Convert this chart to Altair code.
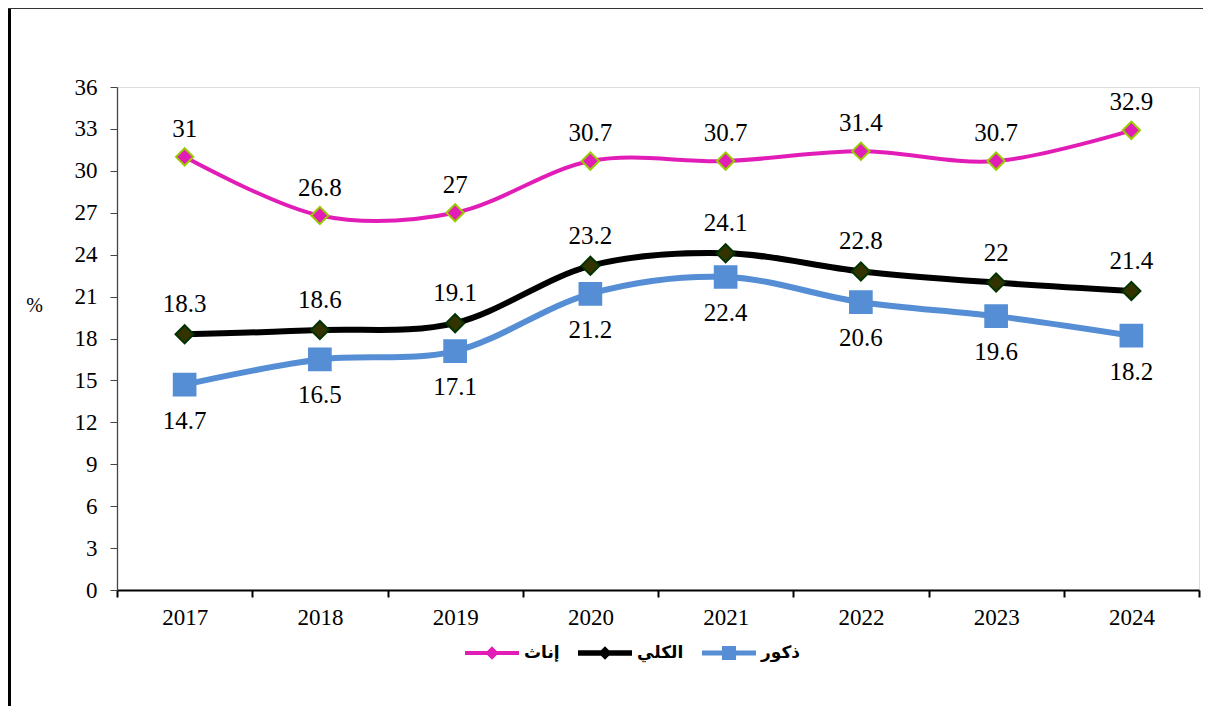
import altair as alt
import pandas as pd

years = ["2017", "2018", "2019", "2020", "2021", "2022", "2023", "2024"]
female = [31, 26.8, 27, 30.7, 30.7, 31.4, 30.7, 32.9]
total = [18.3, 18.6, 19.1, 23.2, 24.1, 22.8, 22, 21.4]
male = [14.7, 16.5, 17.1, 21.2, 22.4, 20.6, 19.6, 18.2]

series_names = ["إناث", "الكلي", "ذكور"]
line_colors = ["#E21DB7", "#000000", "#558ED5"]
marker_fills = ["#E21DB7", "#333300", "#558ED5"]
marker_strokes = ["#99CC00", "#003300", "#558ED5"]
marker_shapes = ["diamond", "diamond", "square"]
marker_sizes = [300, 330, 470]
line_widths = [4, 6, 6]
label_offsets = [-28, -30, 36]

legend_paths = [
    "M-1.8,-0.14L1.8,-0.14L1.8,0.14L-1.8,0.14Z M0,-0.45L0.45,0L0,0.45L-0.45,0Z",
    "M-1.8,-0.18L1.8,-0.18L1.8,0.18L-1.8,0.18Z M0,-0.45L0.45,0L0,0.45L-0.45,0Z",
    "M-1.8,-0.16L1.8,-0.16L1.8,0.16L-1.8,0.16Z M-0.47,-0.47L0.47,-0.47L0.47,0.47L-0.47,0.47Z",
]

rows = []
for name, vals in zip(series_names, [female, total, male]):
    for y, v in zip(years, vals):
        rows.append({"year": y, "series": name, "value": v})
df = pd.DataFrame(rows)

W, H = 1082, 503
serif = "Liberation Serif"

x_enc = alt.X(
    "year:N",
    scale=alt.Scale(domain=years, paddingInner=0, paddingOuter=0),
    axis=alt.Axis(
        title=None, labelAngle=0, tickBand="extent", labelFont=serif,
        labelFontSize=23, labelColor="black", labelPadding=9, tickSize=7,
        tickWidth=2, tickColor="black", domainColor="black", domainWidth=2,
        grid=False,
    ),
)
y_enc = alt.Y(
    "value:Q",
    scale=alt.Scale(domain=[0, 36], nice=False, zero=True),
    axis=alt.Axis(
        values=list(range(0, 37, 3)), title="%", titleAngle=0, titleX=-83,
        titleY=218, titleFont=serif, titleFontSize=20, titleFontWeight="normal",
        titleAlign="center", titleBaseline="middle", titleColor="black",
        labelFont=serif, labelFontSize=23, labelColor="black", labelPadding=13,
        tickSize=7, tickColor="#444", domainColor="#444", domainWidth=1.3,
        grid=False,
    ),
)

layers = []
for i, name in enumerate(series_names):
    base = alt.Chart(df).transform_filter(alt.datum.series == name)
    layers.append(
        base.mark_line(interpolate="cardinal", color=line_colors[i], strokeWidth=line_widths[i])
        .encode(x=x_enc, y=y_enc)
    )
for i, name in enumerate(series_names):
    base = alt.Chart(df).transform_filter(alt.datum.series == name)
    layers.append(
        base.mark_point(
            filled=True, opacity=1, shape=marker_shapes[i], size=marker_sizes[i],
            fill=marker_fills[i], stroke=marker_strokes[i], strokeWidth=2,
        ).encode(x=x_enc, y=y_enc)
    )
for i, name in enumerate(series_names):
    base = alt.Chart(df).transform_filter(alt.datum.series == name)
    layers.append(
        base.mark_text(font=serif, fontSize=25, color="black", dy=label_offsets[i])
        .encode(x=x_enc, y=y_enc, text=alt.Text("value:Q", format=".1~f"))
    )

leg = alt.Legend(
    orient="none", legendX=360, legendY=551, direction="horizontal", title=None,
    symbolSize=900, symbolStrokeWidth=0, labelFont="DejaVu Sans",
    labelFontWeight="bold", labelFontSize=17, labelColor="black",
    labelOffset=17, columnPadding=18,
)
legend_layer = alt.Chart(df).mark_point(filled=True, opacity=1, size=0).encode(
    x=x_enc, y=y_enc,
    color=alt.Color("series:N", scale=alt.Scale(domain=series_names, range=line_colors), legend=leg),
    shape=alt.Shape("series:N", scale=alt.Scale(domain=series_names, range=legend_paths), legend=leg),
)
layers.append(legend_layer)

frame_df = pd.DataFrame({"k": [0]})
layers.append(
    alt.Chart(frame_df).mark_rect(color="black").encode(
        x=alt.value(-109), x2=alt.value(-106), y=alt.value(-80), y2=alt.value(640)
    )
)
layers.append(
    alt.Chart(frame_df).mark_rect(color="#333333").encode(
        x=alt.value(-109), x2=alt.value(1086), y=alt.value(-80), y2=alt.value(-78)
    )
)

chart = alt.layer(*layers).properties(
    width=W, height=H,
    padding={"left": 109, "top": 79, "right": 4, "bottom": 116},
    autosize=alt.AutoSizeParams(type="none"),
).configure_view(stroke=None).configure(background="white")

chart.save("out.html", embed_options={"renderer": "svg", "actions": False})
